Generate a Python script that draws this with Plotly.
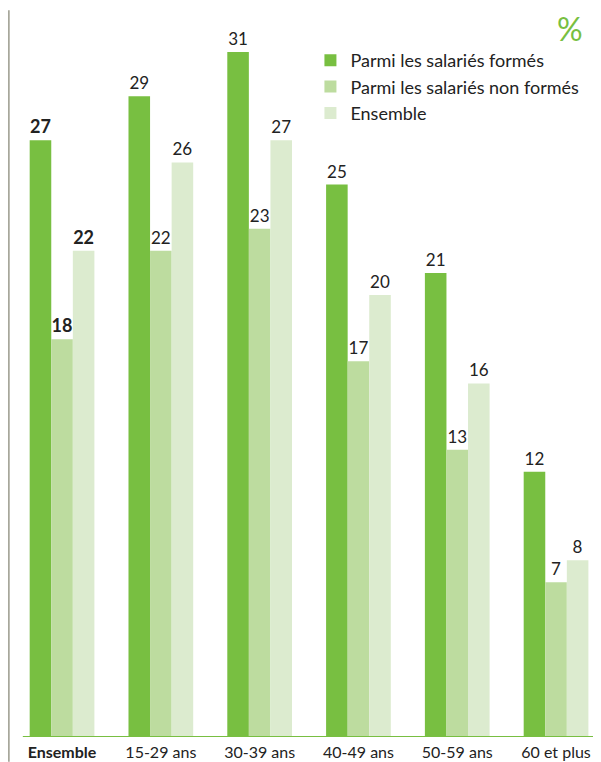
import plotly.graph_objects as go

categories = ["Ensemble", "15-29 ans", "30-39 ans", "40-49 ans", "50-59 ans", "60 et plus"]
tick_labels = ["<b>Ensemble</b>", "15-29 ans", "30-39 ans", "40-49 ans", "50-59 ans", "60 et plus"]
formes = [27, 29, 31, 25, 21, 12]
non_formes = [18, 22, 23, 17, 13, 7]
ensemble = [22, 26, 27, 20, 16, 8]

series_names = ["Parmi les salariés formés", "Parmi les salariés non formés", "Ensemble"]
colors = ["#78bf41", "#bddc9f", "#dcebcf"]

FONT = "Lato"

def labels(vals):
    return [f"<b>{v}</b>" if i == 0 else str(v) for i, v in enumerate(vals)]

fig = go.Figure()
for name, vals, col in zip(series_names, [formes, non_formes, ensemble], colors):
    fig.add_trace(go.Bar(
        x=categories, y=vals, name=name, marker_color=col, marker_line_width=0,
        text=labels(vals), textposition="outside", cliponaxis=False,
        textfont=dict(family=FONT, size=[18, 17, 17, 17, 17, 17], color="#222222"),
        legendgroup=name,
    ))

fig.update_layout(
    width=593, height=754,
    margin=dict(l=0, r=0, t=0, b=25),
    paper_bgcolor="white", plot_bgcolor="white",
    barmode="group", bargap=0.345, bargroupgap=0,
    showlegend=True,
    legend=dict(x=0.51, y=0.9534, xanchor="left", yanchor="top",
                font=dict(family=FONT, size=18, color="#222222"),
                tracegroupgap=0, bgcolor="rgba(0,0,0,0)", itemwidth=30),
    xaxis=dict(range=[-0.547, 5.455], showgrid=False, zeroline=False, showline=False,
               tickmode="array", tickvals=categories, ticktext=tick_labels,
               tickfont=dict(family=FONT, size=16, color="#222222"), ticks="",
               ticklabelstandoff=4),
    yaxis=dict(range=[0, 32.99], showgrid=False, zeroline=False, showline=False,
               showticklabels=False, ticks=""),
)

# left vertical rule
fig.add_shape(type="line", xref="paper", yref="paper", x0=0.0015, x1=0.0015, y0=-0.034, y1=0.997,
              line=dict(color="#9a9a8c", width=1.5))
# green baseline
fig.add_shape(type="line", xref="paper", yref="y", x0=0.025, x1=0.993, y0=0, y1=0,
              line=dict(color="#78bf41", width=2))
# percent sign
fig.add_annotation(text="%", xref="paper", yref="paper", x=0.948, y=1.0,
                   xanchor="center", yanchor="top", showarrow=False, borderpad=0,
                   font=dict(family=FONT, size=32, color="#78bf41"))

fig.write_html("out.html")
